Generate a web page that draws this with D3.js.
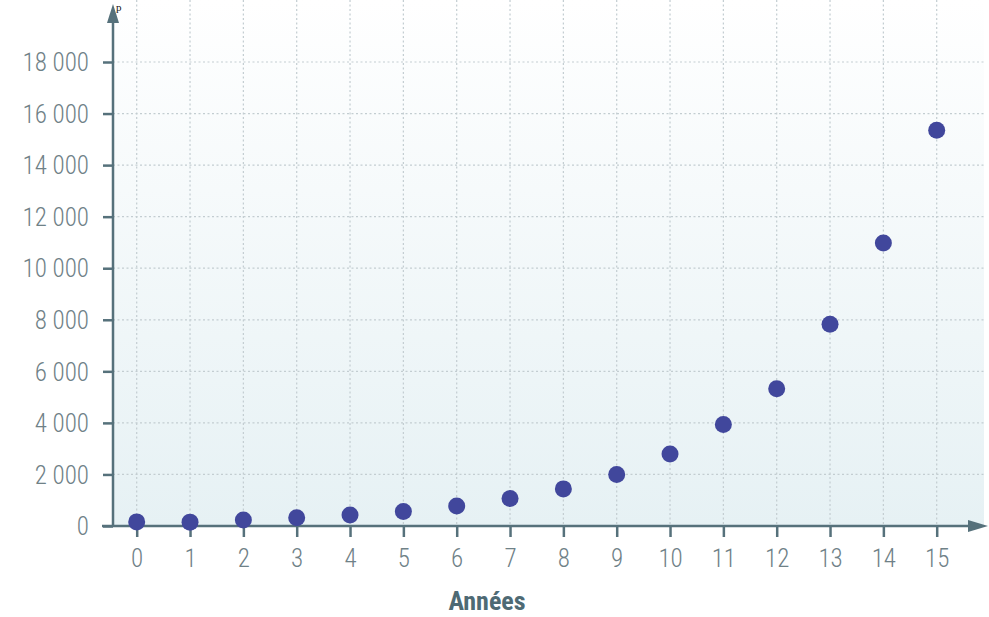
<!DOCTYPE html>
<html><head><meta charset="utf-8">
<script src="https://cdn.jsdelivr.net/npm/d3@7"></script>
<style>
html,body{margin:0;padding:0;background:#fff;}
svg{display:block;}
</style></head>
<body>
<svg id="chart" width="989" height="617"></svg>
<script>
const years = [0,1,2,3,4,5,6,7,8,9,10,11,12,13,14,15];
const values = [160,150,230,320,430,560,780,1070,1440,2000,2790,3940,5320,7830,10980,15350];
const yTicks = [0,2000,4000,6000,8000,10000,12000,14000,16000,18000];
const xLabel = "Années";

const svg = d3.select("#chart");
const x = d3.scaleLinear().domain([0,15]).range([136.7,936.7]);
const y = d3.scaleLinear().domain([0,18000]).range([526,62]);
const x0 = 113, plotRight = 984;
const axisColor = "#56717b", labelColor = "#6f8187";
const fontFam = "'Liberation Sans Narrow','Roboto Condensed','Open Sans',sans-serif";

const defs = svg.append("defs");
const grad = defs.append("linearGradient").attr("id","bg").attr("x1",0).attr("y1",0).attr("x2",0).attr("y2",1);
grad.append("stop").attr("offset","0%").attr("stop-color","#ffffff");
grad.append("stop").attr("offset","100%").attr("stop-color","#e6f1f4");

svg.append("rect").attr("x",x0).attr("y",0).attr("width",plotRight-x0).attr("height",y(0))
  .attr("fill","url(#bg)");

// grid
const grid = svg.append("g").attr("stroke","#c3cdd1").attr("stroke-width",1.2).attr("stroke-dasharray","2,2.5");
grid.selectAll("line.v").data(years).join("line").attr("class","v")
  .attr("x1",d=>x(d)).attr("x2",d=>x(d)).attr("y1",0).attr("y2",y(0));
grid.selectAll("line.h").data(yTicks.slice(1)).join("line").attr("class","h")
  .attr("x1",x0).attr("x2",plotRight).attr("y1",d=>y(d)).attr("y2",d=>y(d));

// y axis
const yAxis = d3.axisLeft(y).tickValues(yTicks).tickSize(10).tickPadding(14)
  .tickFormat(d => d3.format(",")(d).replace(/,/g," "));
const gy = svg.append("g").attr("transform",`translate(${x0},0)`).call(yAxis);
gy.select(".domain").remove();
gy.selectAll(".tick line").attr("stroke",axisColor).attr("stroke-width",2.5);
gy.selectAll(".tick text").attr("fill",labelColor).attr("font-size",25).attr("font-weight",300)
  .attr("font-family",fontFam).attr("dy","0.35em");

// x axis
const xAxis = d3.axisBottom(x).tickValues(years).tickSize(11).tickPadding(12).tickFormat(d3.format("d"));
const gx = svg.append("g").attr("transform",`translate(0,${y(0)})`).call(xAxis);
gx.select(".domain").remove();
gx.selectAll(".tick line").attr("stroke",axisColor).attr("stroke-width",2.5);
gx.selectAll(".tick text").attr("fill",labelColor).attr("font-size",25).attr("font-weight",300)
  .attr("font-family",fontFam);

// axis lines with arrows
svg.append("line").attr("x1",x0).attr("x2",x0).attr("y1",y(0)+1).attr("y2",18)
  .attr("stroke",axisColor).attr("stroke-width",2.5);
svg.append("path").attr("d",`M${x0},4 L${x0-6},23 L${x0+6},23 Z`).attr("fill",axisColor);
svg.append("line").attr("x1",102).attr("x2",972).attr("y1",y(0)).attr("y2",y(0))
  .attr("stroke",axisColor).attr("stroke-width",2.5);
svg.append("path").attr("d",`M988,${y(0)} L968,${y(0)-6} L968,${y(0)+6} Z`).attr("fill",axisColor);

// points
svg.append("g").selectAll("circle").data(years).join("circle")
  .attr("cx",d=>x(d)).attr("cy",(d,i)=>y(values[i])).attr("r",8.5)
  .attr("fill","#41479c");

// x label
svg.append("text").attr("x",487).attr("y",610).attr("text-anchor","middle")
  .attr("font-family",fontFam).attr("font-weight","bold").attr("font-size",26)
  .attr("fill","#4e6a74").text(xLabel);

// small title glyph at top (cropped in the source image)
svg.append("text").attr("x",116).attr("y",11).attr("font-family","'Liberation Serif',serif")
  .attr("font-size",11).attr("fill","#111").text("p");
</script>
</body></html>
